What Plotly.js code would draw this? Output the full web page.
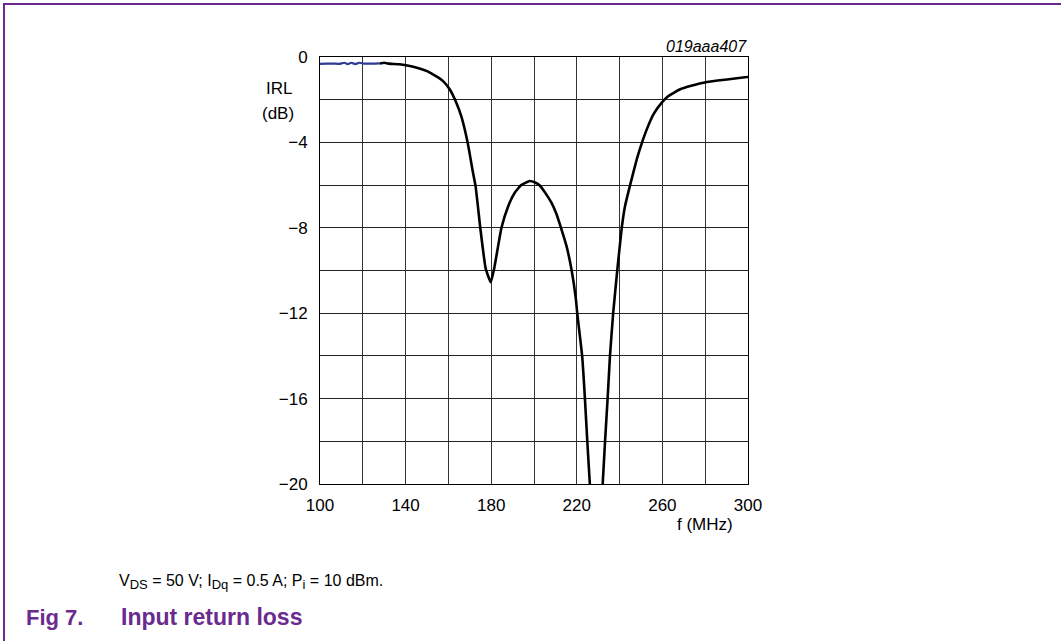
<!DOCTYPE html>
<html>
<head>
<meta charset="utf-8">
<script src="https://cdn.plot.ly/plotly-3.0.1.min.js"></script>
<style>
  html, body { margin: 0; padding: 0; background: #fff; }
  #wrap { position: relative; width: 1061px; height: 641px; overflow: hidden; }
  #frameTop { position: absolute; left: 3px; top: 3px; width: 1058px; height: 2px; background: #6a2a8e; }
  #frameLeft { position: absolute; left: 3px; top: 3px; width: 2px; height: 638px; background: #6a2a8e; }
  #chart { position: absolute; left: 0; top: 0; width: 1061px; height: 641px; }
</style>
</head>
<body>
<div id="wrap">
  <div id="chart"></div>
  <div id="frameTop"></div>
  <div id="frameLeft"></div>
</div>
<script>
// Measured (blue) segment, 100-128 MHz
const freqBlue = [100, 103, 106, 109, 111.4, 113, 114.5, 116.5, 118.4, 120.5, 124, 128];
const irlBlue  = [-0.32, -0.31, -0.31, -0.32, -0.27, -0.33, -0.27, -0.33, -0.27, -0.31, -0.31, -0.3];

// Main (black) curve; null separates the part that runs below -20 dB
const freqMain = [128, 130, 132, 137.1, 142, 146.5, 150, 152.7, 155, 157.4, 160.6, 163.7, 166, 168, 169.6, 171.2, 172.7,
                  174.9, 177.4, 179.8, 181.4, 184.8, 187.9, 191, 194, 198, 200.5, 202.7, 205.5, 208.2, 210.5, 212.1,
                  215.2, 217.6, 219.6, 220.2, 222.5, 223.8, 224.9, 226.1,
                  null,
                  232.1, 233.2, 234.4, 235.5, 237, 238.9, 241, 242.5, 244.9, 248, 250.5, 252.7, 255.8, 259.7, 262.8,
                  268.3, 273, 280.8, 290.2, 299.5, 300];
const irlMain  = [-0.3, -0.27, -0.31, -0.34, -0.42, -0.54, -0.66, -0.81, -0.94, -1.12, -1.51, -2.14, -2.77, -3.55, -4.33, -5.26, -6.05,
                  -8, -9.9, -10.55, -9.9, -8, -7, -6.36, -6.0, -5.81, -5.88, -6.02, -6.4, -6.83, -7.35, -7.84,
                  -8.86, -10, -11.36, -12, -14, -16, -18, -20,
                  null,
                  -20, -18, -16, -14, -12, -10, -8, -7, -6, -4.8, -4, -3.39, -2.69, -2.14, -1.83,
                  -1.51, -1.36, -1.17, -1.05, -0.94, -0.93];

const xTickVals = [100, 140, 180, 220, 260, 300];
const yTickVals = [0, -4, -8, -12, -16, -20];
const yTickText = ['0', '\u22124', '\u22128', '\u221212', '\u221216', '\u221220'];

const FONT = '"Liberation Sans", Arial, sans-serif';
const PURPLE = '#6a2a8e';

// plot area in pixels
const L = 320, R = 748, T = 57, B = 484;
const px = x => (x - L) / (R - L);
const py = y => (B - y) / (B - T);

const traces = [
  { x: freqMain, y: irlMain, type: 'scatter', mode: 'lines', connectgaps: false,
    line: { color: '#000', width: 2.6, shape: 'spline', smoothing: 0.4 }, hoverinfo: 'skip' },
  { x: freqBlue, y: irlBlue, type: 'scatter', mode: 'lines',
    line: { color: '#2e3a93', width: 2.2, shape: 'spline', smoothing: 0.6 }, hoverinfo: 'skip' }
];

const layout = {
  width: 1061, height: 641,
  margin: { l: L, r: 1061 - R, t: T, b: 641 - B, pad: 0 },
  paper_bgcolor: '#fff', plot_bgcolor: '#fff',
  showlegend: false,
  font: { family: FONT, size: 17, color: '#000' },
  xaxis: {
    range: [100, 300], tickvals: xTickVals, ticktext: xTickVals.map(String),
    showgrid: true, gridcolor: '#333', gridwidth: 1,
    minor: { dtick: 20, tick0: 100, showgrid: true, gridcolor: '#333', gridwidth: 1 },
    showline: true, linecolor: '#000', linewidth: 1, mirror: true,
    ticks: '', ticklabelstandoff: 6, zeroline: false, tickfont: { size: 17, family: FONT, color: '#000' }
  },
  yaxis: {
    range: [-20, 0], tickvals: yTickVals, ticktext: yTickText,
    showgrid: true, gridcolor: '#222', gridwidth: 1,
    minor: { dtick: 2, tick0: 0, showgrid: true, gridcolor: '#222', gridwidth: 1 },
    showline: true, linecolor: '#000', linewidth: 1, mirror: true,
    ticks: '', ticklabelstandoff: 8, zeroline: false, tickfont: { size: 17, family: FONT, color: '#000' }
  },
  annotations: [
    { text: 'IRL', x: px(279), y: py(89), xref: 'paper', yref: 'paper', xanchor: 'center', yanchor: 'middle', showarrow: false, font: { size: 17 } },
    { text: '(dB)', x: px(278), y: py(113), xref: 'paper', yref: 'paper', xanchor: 'center', yanchor: 'middle', showarrow: false, font: { size: 17 } },
    { text: 'f (MHz)', x: px(705), y: py(524), xref: 'paper', yref: 'paper', xanchor: 'center', yanchor: 'middle', showarrow: false, font: { size: 17 } },
    { text: '<i>019aaa407</i>', x: px(749), y: py(47), xref: 'paper', yref: 'paper', xanchor: 'right', yanchor: 'middle', showarrow: false, font: { size: 16 } },
    { text: 'V<sub><span style="font-size:13px">DS</span></sub> = 50 V; I<sub><span style="font-size:13px">Dq</span></sub> = 0.5 A; P<sub><span style="font-size:13px">i</span></sub> = 10 dBm.',
      x: px(117), y: py(582), xref: 'paper', yref: 'paper', xanchor: 'left', yanchor: 'middle', showarrow: false, font: { size: 16 } },
    { text: '<b>Fig 7.</b>', x: px(24), y: py(617), xref: 'paper', yref: 'paper', xanchor: 'left', yanchor: 'middle', showarrow: false, font: { size: 22, color: PURPLE } },
    { text: '<b>Input return loss</b>', x: px(119), y: py(617), xref: 'paper', yref: 'paper', xanchor: 'left', yanchor: 'middle', showarrow: false, font: { size: 23, color: PURPLE } }
  ]
};

Plotly.newPlot('chart', traces, layout, { staticPlot: true, displayModeBar: false });
</script>
</body>
</html>
